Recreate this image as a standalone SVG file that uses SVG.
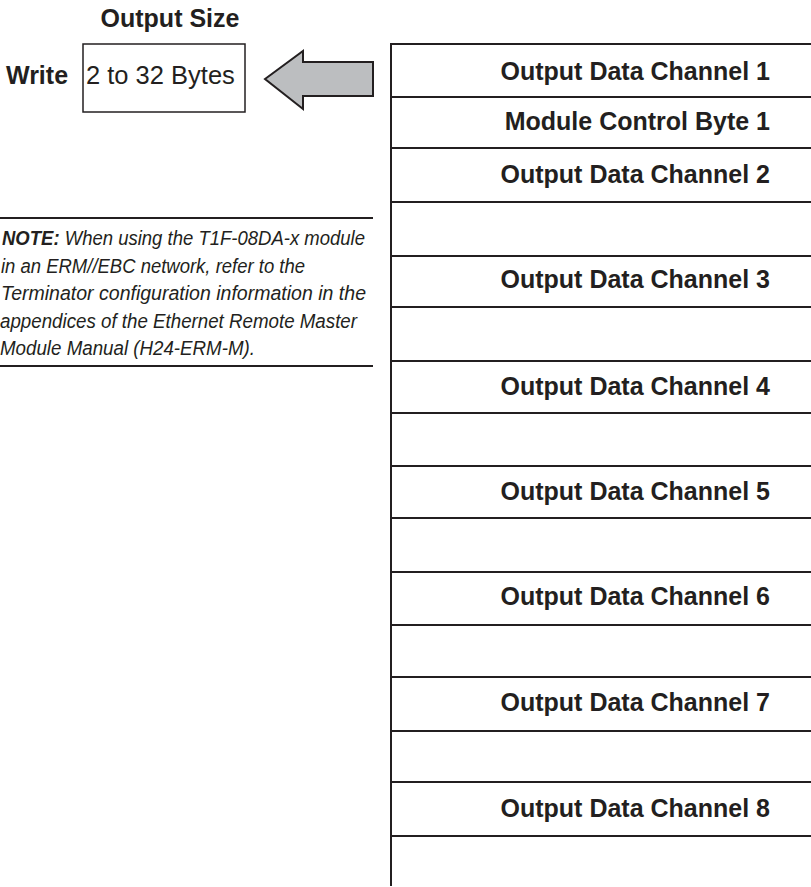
<svg xmlns="http://www.w3.org/2000/svg" width="811" height="887" viewBox="0 0 811 887">
<style>
.t{font-family:"Liberation Sans",Arial,sans-serif;fill:#231f20}
.b{font-weight:bold;font-size:25px}
.cell{font-family:"Liberation Sans",Arial,sans-serif;font-weight:bold;font-size:25px;fill:#231f20;text-anchor:end}
.ln{stroke:#231f20;stroke-width:2;fill:none}
.note{font-family:"Liberation Sans Narrow","Liberation Sans",Arial,sans-serif;font-style:italic;font-size:20px;fill:#231f20}
</style>
<rect width="811" height="887" fill="#ffffff"/>
<g id="output-size">
<text class="t b" x="170" y="27" text-anchor="middle">Output Size</text>
<text class="t b" x="6" y="84">Write</text>
<rect x="83" y="44" width="162" height="68" fill="#ffffff" stroke="#231f20" stroke-width="1.5"/>
<text class="t" x="86" y="84" font-size="25.5">2 to 32 Bytes</text>
</g>
<g id="connectors">
<path d="M265,79 L303,51 L303,62 L373,62 L373,96 L303,96 L303,109 Z" fill="#bcbec0" stroke="#231f20" stroke-width="2" stroke-linejoin="miter"/>
</g>
<g id="note">
<line class="ln" x1="0" y1="218" x2="373" y2="218"/>
<text class="note" y="245"><tspan x="2" textLength="363" lengthAdjust="spacingAndGlyphs"><tspan font-weight="bold">NOTE:</tspan> When using the T1F-08DA-x module</tspan></text>
<text class="note" x="1" y="273" textLength="304" lengthAdjust="spacingAndGlyphs">in an ERM//EBC network, refer to the</text>
<text class="note" x="1" y="300" textLength="365" lengthAdjust="spacingAndGlyphs">Terminator configuration information in the</text>
<text class="note" x="0" y="328" textLength="357" lengthAdjust="spacingAndGlyphs">appendices of the Ethernet Remote Master</text>
<text class="note" x="0" y="355" textLength="255" lengthAdjust="spacingAndGlyphs">Module Manual (H24-ERM-M).</text>
<line class="ln" x1="0" y1="366" x2="373" y2="366"/>
</g>
<g id="table">
<line class="ln" x1="391" y1="44" x2="391" y2="886"/>
<line class="ln" x1="390" y1="44" x2="811" y2="44"/>
<line class="ln" x1="390" y1="97" x2="811" y2="97"/>
<line class="ln" x1="390" y1="148" x2="811" y2="148"/>
<line class="ln" x1="390" y1="202" x2="811" y2="202"/>
<line class="ln" x1="390" y1="256" x2="811" y2="256"/>
<line class="ln" x1="390" y1="307" x2="811" y2="307"/>
<line class="ln" x1="390" y1="361" x2="811" y2="361"/>
<line class="ln" x1="390" y1="413" x2="811" y2="413"/>
<line class="ln" x1="390" y1="466" x2="811" y2="466"/>
<line class="ln" x1="390" y1="518" x2="811" y2="518"/>
<line class="ln" x1="390" y1="572" x2="811" y2="572"/>
<line class="ln" x1="390" y1="625" x2="811" y2="625"/>
<line class="ln" x1="390" y1="677" x2="811" y2="677"/>
<line class="ln" x1="390" y1="731" x2="811" y2="731"/>
<line class="ln" x1="390" y1="782" x2="811" y2="782"/>
<line class="ln" x1="390" y1="836" x2="811" y2="836"/>
<g id="row-ch1"><text class="cell" x="770" y="80">Output Data Channel 1</text></g>
<g id="row-mcb1"><text class="cell" x="770" y="130">Module Control Byte 1</text></g>
<g id="row-ch2"><text class="cell" x="770" y="183">Output Data Channel 2</text></g>
<g id="row-ch3"><text class="cell" x="770" y="288">Output Data Channel 3</text></g>
<g id="row-ch4"><text class="cell" x="770" y="395">Output Data Channel 4</text></g>
<g id="row-ch5"><text class="cell" x="770" y="500">Output Data Channel 5</text></g>
<g id="row-ch6"><text class="cell" x="770" y="605">Output Data Channel 6</text></g>
<g id="row-ch7"><text class="cell" x="770" y="711">Output Data Channel 7</text></g>
<g id="row-ch8"><text class="cell" x="770" y="817">Output Data Channel 8</text></g>
</g>
</svg>
